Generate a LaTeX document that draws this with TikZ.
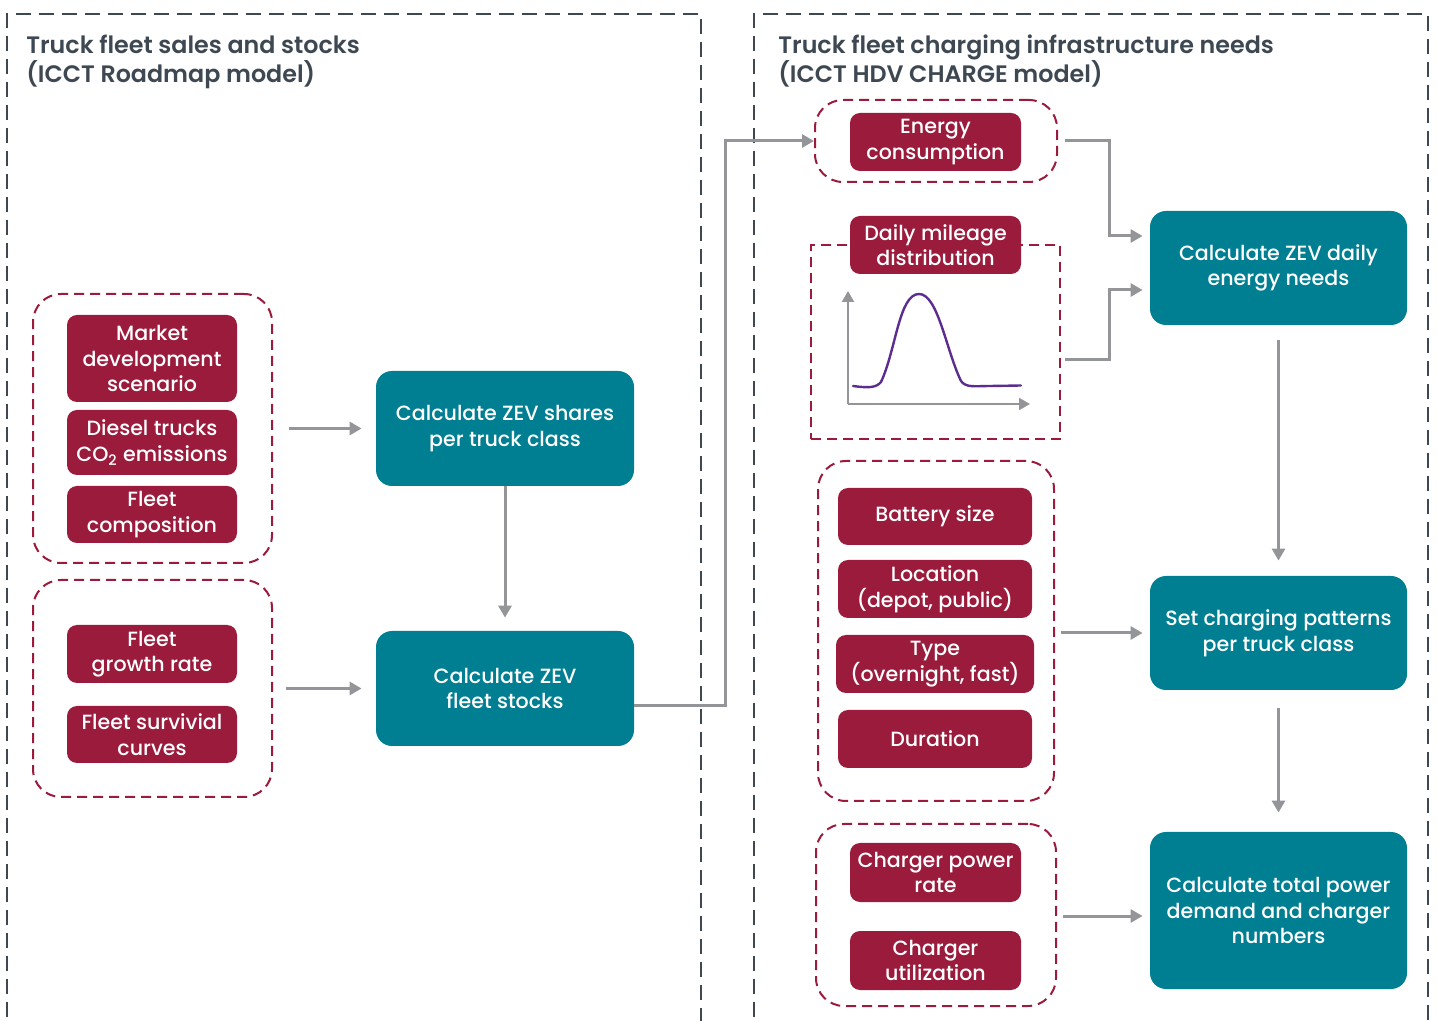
\documentclass[tikz,border=0pt]{standalone}
\usepackage{fontspec}
\setmainfont{Poppins}[UprightFont={* Medium}, BoldFont={* SemiBold}]
\usepackage{tikz}
\usetikzlibrary{arrows.meta, positioning, calc}
\definecolor{ICCTRed}{RGB}{155, 27, 60}
\definecolor{ICCTTeal}{RGB}{0, 127, 147}
\definecolor{ICCTGrey}{RGB}{147, 149, 152}
\definecolor{ICCTSlate}{RGB}{61, 72, 82}
\definecolor{ICCTPurple}{RGB}{92, 45, 145}

\tikzset{
  boxfont/.style={font=\fontsize{10.3}{12.8}\selectfont},
  inbox/.style={boxfont, fill=ICCTRed, text=white, rounded corners=5pt, inner sep=0pt, align=center, minimum width=85pt, minimum height=29pt},
  calcbox/.style={boxfont, fill=ICCTTeal, text=white, rounded corners=8pt, inner sep=0pt, align=center, minimum width=129pt, minimum height=57.5pt},
  grpbox/.style={draw=ICCTRed, line width=1pt, dash pattern=on 5pt off 3pt, rounded corners=14pt, inner sep=0pt},
  outerbox/.style={draw=ICCTSlate, line width=0.8pt, dash pattern=on 7.5pt off 4pt},
  flow/.style={draw=ICCTGrey, line width=1.5pt, -{Triangle[length=6pt,width=6.5pt]}},
  axisline/.style={draw=ICCTGrey, line width=1pt, -{Triangle[length=5.5pt,width=6pt]}},
  paneltitle/.style={font=\bfseries\fontsize{11.9}{14.5}\selectfont, text=ICCTSlate, align=left, anchor=west, inner sep=0pt}
}

\begin{document}
\begin{tikzpicture}[x=0.5pt, y=-0.5pt]
  \useasboundingbox (0,0) rectangle (1437,1021);

  % panels
  \draw[outerbox] (7,1040) -- (7,14) -- (701,14) -- (701,1040);
  \draw[outerbox] (754,1040) -- (754,14) -- (1428,14) -- (1428,1040);
  \node[paneltitle] (titleroad) at (26,61.5) {Truck fleet sales and stocks\\(ICCT Roadmap model)};
  \node[paneltitle] (titlecharge) at (778,61.5) {Truck fleet charging infrastructure needs\\(ICCT HDV CHARGE model)};

  % left panel inputs
  \node[grpbox, minimum width=119.5pt, minimum height=134.5pt] (grpmarket) at (152.5,428.5) {};
  \node[inbox, minimum height=43.5pt] (market) at (152,358.5) {Market\\development\\scenario};
  \node[inbox, minimum height=32.5pt] (diesel) at (152,442.5) {Diesel trucks\\CO\textsubscript{2} emissions};
  \node[inbox, minimum height=28.5pt] (composition) at (152,514.5) {Fleet\\composition};

  \node[grpbox, minimum width=119.5pt, minimum height=108.5pt] (grpgrowth) at (152.5,688.5) {};
  \node[inbox] (growth) at (152,654) {Fleet\\growth rate};
  \node[inbox, minimum height=28.5pt] (survival) at (152,734.5) {Fleet survivial\\curves};

  % left panel calculations
  \node[calcbox] (shares) at (505,428.5) {Calculate ZEV shares\\per truck class};
  \node[calcbox] (stocks) at (505,688.5) {Calculate ZEV\\fleet stocks};

  % right panel inputs
  \node[grpbox, minimum width=121pt, minimum height=41pt] (grpenergy) at (936,141) {};
  \node[inbox, minimum width=85.5pt] (energy) at (935.5,142) {Energy\\consumption};

  \node[draw=ICCTRed, line width=1pt, dash pattern=on 5pt off 3pt, minimum width=124.5pt, minimum height=97pt, inner sep=0pt] (mileagebox) at (935.5,342) {};
  \node[inbox, minimum width=85.5pt] (mileage) at (935.5,245) {Daily mileage\\distribution};
  \draw[axisline] (848,404) -- (848,291);
  \draw[axisline] (848,404) -- (1030,404);
  \draw[ICCTPurple, line width=1.2pt, line cap=round]
    (853,386) .. controls (868,388) and (876,388) .. (881,382)
    .. controls (896,350) and (899,294) .. (919,294)
    .. controls (938,294) and (946,350) .. (961,381)
    .. controls (966,388) and (975,386) .. (990,386) -- (1021,385.5);

  \node[grpbox, minimum width=118pt, minimum height=170pt] (grpbattery) at (936,631) {};
  \node[inbox, minimum width=97pt, minimum height=28.5pt] (battery) at (935,516.5) {Battery size};
  \node[inbox, minimum width=97pt] (location) at (935,589) {Location\\(depot, public)};
  \node[inbox, minimum width=99pt] (chargetype) at (935,664) {Type\\(overnight, fast)};
  \node[inbox, minimum width=97pt] (duration) at (935,739) {Duration};

  \node[grpbox, minimum width=120pt, minimum height=91pt] (grpcharger) at (936,915) {};
  \node[inbox, minimum width=85.5pt, minimum height=29.5pt] (chargerrate) at (935.5,872.5) {Charger power\\rate};
  \node[inbox, minimum width=85.5pt, minimum height=29.5pt] (utilization) at (935.5,960.5) {Charger\\utilization};

  % right panel calculations
  \node[calcbox, minimum width=128.5pt, minimum height=57pt] (dailyneeds) at (1278.5,268) {Calculate ZEV daily\\energy needs};
  \node[calcbox, minimum width=128.5pt, minimum height=57pt] (patterns) at (1278.5,633) {Set charging patterns\\per truck class};
  \node[calcbox, minimum width=128.5pt, minimum height=78.5pt] (totalpower) at (1278.5,910.5) {Calculate total power\\demand and charger\\numbers};

  % connectors
  \draw[flow, shorten <=8pt, shorten >=7pt] (grpmarket) -- (grpmarket -| shares.west);
  \draw[flow, shorten <=6.5pt, shorten >=7pt] (grpgrowth) -- (grpgrowth -| stocks.west);
  \draw[flow, shorten >=6.5pt] (shares) -- (stocks);
  \draw[flow] ([yshift=-8.75pt]stocks.east) -- ++(45.5pt,0) |- (grpenergy.west);
  \draw[flow, shorten >=3.5pt] ([xshift=3.5pt]grpenergy.east) -- ++(22pt,0) |- ([yshift=16pt]dailyneeds.west);
  \draw[flow, shorten >=3.5pt] ([xshift=2pt,yshift=-9pt]mileagebox.east) -- ++(22pt,0) |- ([yshift=-11pt]dailyneeds.west);
  \draw[flow, shorten <=7.5pt, shorten >=7.5pt] (dailyneeds) -- (patterns);
  \draw[flow, shorten <=9pt, shorten >=9.5pt] (patterns) -- (totalpower);
  \draw[flow, shorten <=3pt, shorten >=3.5pt] (grpbattery.east |- patterns) -- (patterns);
  \draw[flow, shorten <=3pt, shorten >=3.5pt] ([yshift=-0.5pt]grpcharger.east) -- ([yshift=-0.5pt]grpcharger.east -| totalpower.west);
\end{tikzpicture}
\end{document}
